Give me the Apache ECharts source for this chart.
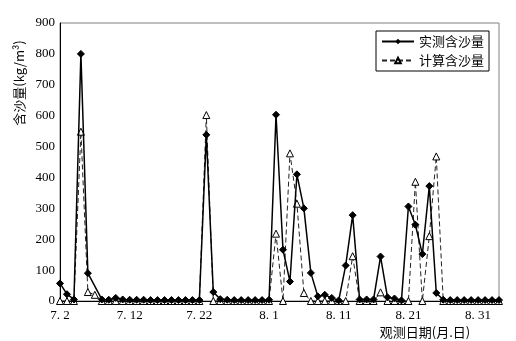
<!DOCTYPE html>
<html><head><meta charset="utf-8">
<script src="https://cdn.jsdelivr.net/npm/echarts@6/dist/echarts.min.js"></script>
<style>html,body{margin:0;padding:0;background:#fff}#c{width:516px;height:341px}</style>
</head><body><div id="c"></div>
<script>
// Daily observation dates (category axis)
const categories = [
 '7.2','7.3','7.4','7.5','7.6','7.7','7.8','7.9','7.10','7.11','7.12','7.13','7.14','7.15','7.16','7.17','7.18','7.19','7.20','7.21',
 '7.22','7.23','7.24','7.25','7.26','7.27','7.28','7.29','7.30','7.31',
 '8.1','8.2','8.3','8.4','8.5','8.6','8.7','8.8','8.9','8.10','8.11','8.12','8.13','8.14','8.15','8.16','8.17','8.18','8.19','8.20',
 '8.21','8.22','8.23','8.24','8.25','8.26','8.27','8.28','8.29','8.30','8.31','9.1','9.2','9.3'
];
// 实测含沙量 (measured)
const measured = [
 57,22,5,800,90,null,5,4,10,5,4,4,4,3,3,3,3,3,3,3,
 3,538,29,6,4,3,3,3,3,3,
 4,603,166,63,410,300,91,15,20,10,2,115,278,5,5,5,144,12,8,2,
 306,247,152,372,26,4,3,3,3,3,3,3,3,3
];
// 计算含沙量 (computed)
const computed = [
 0,0,0,548,29,20,0,0,0,0,0,0,0,0,0,0,0,0,0,0,
 0,602,0,0,0,0,0,0,0,0,
 0,218,0,478,315,26,0,0,0,0,0,0,145,0,0,0,28,0,0,0,
 0,386,0,210,468,0,0,0,0,0,0,0,0,0
];
const yMin = 0, yMax = 900, yStep = 100;
const xLabelStep = 10;

const chart = echarts.init(document.getElementById('c'));
const serif = 'Liberation Serif';
const cjk = 'Noto Sans CJK SC';
chart.setOption({
  animation: false,
  backgroundColor: '#fff',
  grid: {left: 60, right: 17, top: 23, bottom: 40, show: true, borderColor: '#808080', borderWidth: 1},
  legend: {
    orient: 'vertical', left: 376, top: 31,
    padding: [4, 5, 4, 5], itemGap: 6, itemWidth: 32, itemHeight: 7,
    borderColor: '#000', borderWidth: 1, backgroundColor: '#fff',
    textStyle: {fontFamily: cjk, fontSize: 13, color: '#000'},
    data: ['实测含沙量', '计算含沙量']
  },
  xAxis: {
    type: 'category', data: categories, boundaryGap: false,
    axisLine: {lineStyle: {color: '#000', width: 1}},
    axisTick: {show: false},
    axisLabel: {interval: xLabelStep - 1, margin: 8, fontFamily: serif, fontSize: 13, color: '#000',
      formatter: v => v.replace('.', '. ')}
  },
  yAxis: {
    type: 'value', min: yMin, max: yMax, interval: yStep,
    axisLine: {show: true, lineStyle: {color: '#000', width: 1}},
    axisTick: {show: false},
    splitLine: {show: false},
    axisLabel: {margin: 5, fontFamily: serif, fontSize: 13, color: '#000'}
  },
  graphic: [
    {type: 'text', x: 19, y: 83, rotation: Math.PI / 2,
     style: {text: '含沙量(kg/m³)', font: '13px "Noto Sans CJK SC"', fill: '#000', textAlign: 'center', textVerticalAlign: 'middle'}},
    {type: 'text', x: 425, y: 332,
     style: {text: '观测日期(月.日)', font: '13px "Noto Sans CJK SC"', fill: '#000', textAlign: 'center', textVerticalAlign: 'middle'}}
  ],
  series: [
    {name: '计算含沙量', type: 'line', data: computed, connectNulls: true,
     symbol: 'triangle', symbolSize: 7, showAllSymbol: true,
     lineStyle: {color: '#222', width: 1, type: [5, 3]},
     itemStyle: {color: '#fff', borderColor: '#000', borderWidth: 1}, z: 2},
    {name: '实测含沙量', type: 'line', data: measured, connectNulls: true,
     symbol: 'diamond', symbolSize: 7, showAllSymbol: true,
     lineStyle: {color: '#000', width: 1.5},
     itemStyle: {color: '#000', borderColor: '#000'}, z: 3}
  ]
});
</script></body></html>
